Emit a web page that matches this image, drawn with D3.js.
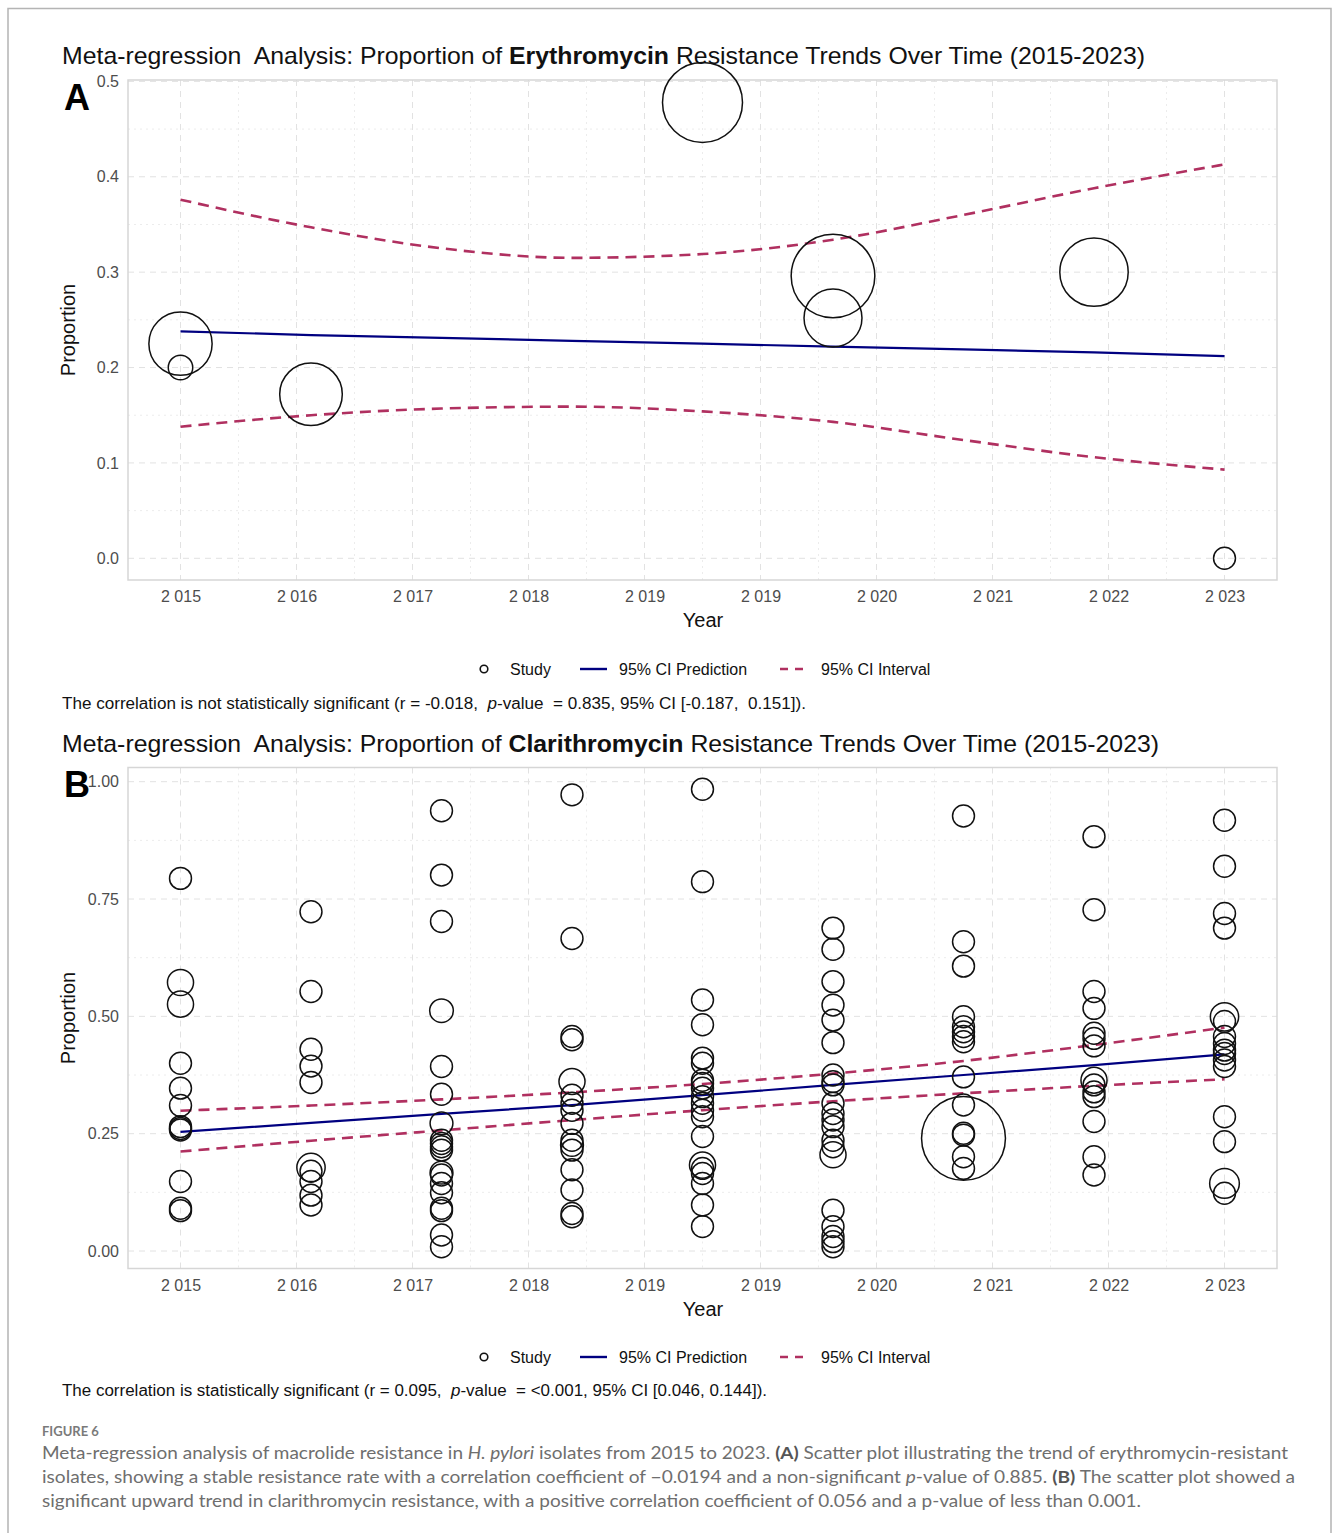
<!DOCTYPE html>
<html>
<head>
<meta charset="utf-8">
<script src="https://cdn.jsdelivr.net/npm/d3@7"></script>
<style>
  body { margin: 0; background: #fff; }
  svg { display: block; }
  text { white-space: pre; }
</style>
</head>
<body>
<svg id="fig" width="1333" height="1533"></svg>
<script>
// ---- data ----
const xTickLabels = ["2 015", "2 016", "2 017", "2 018", "2 019", "2 019", "2 020", "2 021", "2 022", "2 023"];
const yTicksA = [0, 0.1, 0.2, 0.3, 0.4, 0.5];
const yTicksB = [0, 0.25, 0.5, 0.75, 1.0];
const fitYears = [2015, 2016, 2017, 2018, 2019, 2020, 2021, 2022, 2023];

// panel A - erythromycin
const eryYear = [2015, 2015, 2016, 2019, 2020, 2020, 2022, 2023];
const eryProp = [0.225, 0.200, 0.172, 0.478, 0.296, 0.252, 0.300, 0.000];
const eryWeight = [10.0, 1.5, 9.8, 16.0, 17.5, 8.4, 11.7, 1.2];
const eryFit = [0.238, 0.234, 0.231, 0.228, 0.225, 0.222, 0.219, 0.216, 0.212];
const eryUpper = [0.376, 0.347, 0.325, 0.315, 0.319, 0.334, 0.360, 0.388, 0.413];
const eryLower = [0.138, 0.150, 0.157, 0.159, 0.154, 0.143, 0.124, 0.106, 0.093];

// panel B - clarithromycin (one list per year)
const clariYear = [2015, 2016, 2017, 2018, 2019, 2020, 2021, 2022, 2023];
const clariProp = [
  [0.794, 0.572, 0.526, 0.400, 0.347, 0.310, 0.265, 0.261, 0.258, 0.148, 0.091, 0.086],
  [0.723, 0.553, 0.430, 0.394, 0.359, 0.178, 0.170, 0.148, 0.119, 0.098],
  [0.938, 0.801, 0.702, 0.512, 0.393, 0.334, 0.272, 0.236, 0.229, 0.222, 0.215, 0.167, 0.162, 0.144, 0.124, 0.091, 0.086, 0.034, 0.009],
  [0.972, 0.666, 0.457, 0.450, 0.361, 0.332, 0.315, 0.300, 0.272, 0.236, 0.226, 0.215, 0.173, 0.130, 0.080, 0.073],
  [0.984, 0.787, 0.535, 0.482, 0.411, 0.400, 0.364, 0.357, 0.347, 0.329, 0.315, 0.300, 0.286, 0.244, 0.183, 0.176, 0.165, 0.144, 0.098, 0.052],
  [0.688, 0.643, 0.574, 0.524, 0.492, 0.444, 0.375, 0.361, 0.354, 0.315, 0.293, 0.279, 0.265, 0.236, 0.222, 0.205, 0.087, 0.052, 0.031, 0.020, 0.009],
  [0.927, 0.659, 0.607, 0.499, 0.478, 0.467, 0.457, 0.446, 0.371, 0.311, 0.251, 0.247, 0.240, 0.201, 0.176],
  [0.883, 0.727, 0.553, 0.517, 0.464, 0.453, 0.437, 0.364, 0.354, 0.339, 0.329, 0.276, 0.201, 0.162],
  [0.918, 0.820, 0.719, 0.688, 0.499, 0.489, 0.457, 0.442, 0.428, 0.421, 0.407, 0.393, 0.286, 0.233, 0.144, 0.123]
];
const clariWeight = [
  [1.2, 1.7, 1.7, 1.2, 1.2, 1.2, 1.2, 1.2, 1.2, 1.2, 1.2, 1.2],
  [1.2, 1.2, 1.2, 1.2, 1.2, 2.0, 1.2, 1.2, 1.2, 1.2],
  [1.2, 1.2, 1.2, 1.4, 1.2, 1.2, 1.3, 1.2, 1.2, 1.2, 1.2, 1.3, 1.2, 1.2, 1.2, 1.2, 1.2, 1.2, 1.2],
  [1.2, 1.2, 1.2, 1.2, 1.7, 1.2, 1.2, 1.2, 1.2, 1.2, 1.3, 1.2, 1.2, 1.2, 1.2, 1.2],
  [1.2, 1.2, 1.2, 1.2, 1.2, 1.2, 1.2, 1.2, 1.2, 1.2, 1.2, 1.2, 1.2, 1.2, 1.7, 1.2, 1.2, 1.2, 1.2, 1.2],
  [1.2, 1.2, 1.2, 1.2, 1.2, 1.2, 1.2, 1.2, 1.2, 1.2, 1.2, 1.2, 1.2, 1.2, 1.2, 1.7, 1.2, 1.2, 1.2, 1.2, 1.2],
  [1.2, 1.2, 1.2, 1.2, 1.2, 1.2, 1.2, 1.2, 1.2, 1.2, 1.2, 1.2, 17.6, 1.2, 1.2],
  [1.2, 1.2, 1.2, 1.2, 1.2, 1.2, 1.2, 1.7, 1.2, 1.2, 1.2, 1.2, 1.2, 1.2],
  [1.2, 1.2, 1.2, 1.2, 2.0, 1.2, 1.2, 1.2, 1.2, 1.2, 1.2, 1.2, 1.2, 1.2, 2.2, 1.2]
];
const clariFit = [0.254, 0.273, 0.292, 0.311, 0.332, 0.354, 0.375, 0.396, 0.419];
const clariUpper = [0.299, 0.310, 0.323, 0.338, 0.356, 0.378, 0.405, 0.439, 0.476];
const clariLower = [0.212, 0.235, 0.257, 0.279, 0.300, 0.319, 0.336, 0.352, 0.366];

// ---- layout ----
const svg = d3.select("#fig");
const font = "'Liberation Sans', Arial, Helvetica, sans-serif";
const NAVY = "#000080", MAROON = "#b03060";
const rScale = d3.scaleSqrt().domain([0, 1]).range([0, 10]);

svg.append("path")
  .attr("d", "M8,1540V8.5H1331V1540")
  .attr("fill", "none").attr("stroke", "#b4b4b4").attr("stroke-width", 1.5);

function titleText(y, drug, width) {
  const t = svg.append("text")
    .attr("x", 62).attr("y", y)
    .attr("font-family", font).attr("font-size", 24).attr("fill", "#111")
    .attr("textLength", width).attr("lengthAdjust", "spacingAndGlyphs");
  t.append("tspan").text("Meta-regression  Analysis: Proportion of ");
  t.append("tspan").attr("font-weight", "bold").text(drug);
  t.append("tspan").text(" Resistance Trends Over Time (2015-2023)");
}

function drawPanel(cfg) {
  const x = d3.scaleLinear().domain([2015, 2023]).range([180.5, 1224.5]);
  const y = d3.scaleLinear().domain(cfg.yDomain).range(cfg.yRange);
  const g = svg.append("g");

  const breaks = xTickLabels.map((d, i) => 2015 + i * 8 / (xTickLabels.length - 1));
  const xMinor = breaks.slice(1).map((b, i) => (b + breaks[i]) / 2);
  const yMinor = cfg.yTicks.slice(1).map((b, i) => (b + cfg.yTicks[i]) / 2);

  // grid
  g.selectAll(".gxm").data(xMinor).enter().append("line")
    .attr("x1", d => x(d)).attr("x2", d => x(d)).attr("y1", cfg.top).attr("y2", cfg.bottom)
    .attr("stroke", "#ececec").attr("stroke-dasharray", "2,4");
  g.selectAll(".gym").data(yMinor).enter().append("line")
    .attr("y1", d => y(d)).attr("y2", d => y(d)).attr("x1", cfg.left).attr("x2", cfg.right)
    .attr("stroke", "#ececec").attr("stroke-dasharray", "2,4");
  g.selectAll(".gx").data(breaks).enter().append("line")
    .attr("x1", d => x(d)).attr("x2", d => x(d)).attr("y1", cfg.top).attr("y2", cfg.bottom)
    .attr("stroke", "#e2e2e2").attr("stroke-dasharray", "6,5");
  g.selectAll(".gy").data(cfg.yTicks).enter().append("line")
    .attr("y1", d => y(d)).attr("y2", d => y(d)).attr("x1", cfg.left).attr("x2", cfg.right)
    .attr("stroke", "#e2e2e2").attr("stroke-dasharray", "6,5");

  g.append("rect")
    .attr("x", cfg.left).attr("y", cfg.top)
    .attr("width", cfg.right - cfg.left).attr("height", cfg.bottom - cfg.top)
    .attr("fill", "none").attr("stroke", "#d6d6d6").attr("stroke-width", 1.5);

  // axes
  const xAxis = g.append("g")
    .attr("transform", "translate(0," + cfg.bottom + ")")
    .call(d3.axisBottom(x).tickValues(breaks).tickFormat((d, i) => xTickLabels[i]).tickSize(0).tickPadding(11));
  const yAxis = g.append("g")
    .attr("transform", "translate(" + cfg.left + ",0)")
    .call(d3.axisLeft(y).tickValues(cfg.yTicks).tickFormat(d3.format(cfg.yFormat)).tickSize(0).tickPadding(9));
  [xAxis, yAxis].forEach(a => {
    a.select(".domain").remove();
    a.selectAll("text").attr("font-family", font).attr("font-size", 16).attr("fill", "#4d4d4d");
  });

  g.append("text")
    .attr("x", 703).attr("y", cfg.bottom + 47).attr("text-anchor", "middle")
    .attr("font-family", font).attr("font-size", 20).attr("fill", "#111").text("Year");
  g.append("text")
    .attr("transform", "translate(75," + ((cfg.top + cfg.bottom) / 2) + ") rotate(-90)")
    .attr("text-anchor", "middle")
    .attr("font-family", font).attr("font-size", 20).attr("fill", "#111").text("Proportion");

  // lines
  const band = d3.line().x((d, i) => x(fitYears[i])).y(d => y(d)).curve(d3.curveMonotoneX);
  [cfg.upper, cfg.lower].forEach(arr => {
    g.append("path").attr("d", band(arr))
      .attr("fill", "none").attr("stroke", MAROON).attr("stroke-width", 2.6)
      .attr("stroke-dasharray", "11,7");
  });
  g.append("path").attr("d", d3.line().x((d, i) => x(fitYears[i])).y(d => y(d))(cfg.fit))
    .attr("fill", "none").attr("stroke", NAVY).attr("stroke-width", 2.2);

  // studies
  g.selectAll(".study").data(cfg.points).enter().append("circle")
    .attr("cx", d => x(d.year)).attr("cy", d => y(d.prop)).attr("r", d => rScale(d.w))
    .attr("fill", "none").attr("stroke", "#111").attr("stroke-width", 1.5);

  // panel letter
  svg.append("text")
    .attr("x", 64).attr("y", cfg.letterY)
    .attr("font-family", font).attr("font-weight", "bold").attr("font-size", 36).attr("fill", "#000")
    .text(cfg.letter);

  // legend
  const ly = cfg.legendY;
  const lg = svg.append("g").attr("font-family", font).attr("font-size", 16).attr("fill", "#111");
  lg.append("circle").attr("cx", 484).attr("cy", ly).attr("r", 3.8)
    .attr("fill", "none").attr("stroke", "#111").attr("stroke-width", 1.6);
  lg.append("text").attr("x", 510).attr("y", ly + 6).text("Study");
  lg.append("line").attr("x1", 580).attr("x2", 607).attr("y1", ly).attr("y2", ly)
    .attr("stroke", NAVY).attr("stroke-width", 2.4);
  lg.append("text").attr("x", 619).attr("y", ly + 6).text("95% CI Prediction");
  lg.append("line").attr("x1", 780).attr("x2", 808).attr("y1", ly).attr("y2", ly)
    .attr("stroke", MAROON).attr("stroke-width", 2.4).attr("stroke-dasharray", "8,7");
  lg.append("text").attr("x", 821).attr("y", ly + 6).text("95% CI Interval");

  // correlation note
  const note = svg.append("text")
    .attr("x", 62).attr("y", cfg.noteY)
    .attr("font-family", font).attr("font-size", 16).attr("fill", "#111")
    .attr("textLength", cfg.noteWidth).attr("lengthAdjust", "spacingAndGlyphs");
  note.append("tspan").text(cfg.note[0]);
  note.append("tspan").attr("font-style", "italic").text("p");
  note.append("tspan").text(cfg.note[1]);
}

titleText(64, "Erythromycin", 1083);
drawPanel({
  left: 128, right: 1277, top: 80, bottom: 580,
  yDomain: [0, 0.5], yRange: [558.3, 81.4], yTicks: yTicksA, yFormat: ".1f",
  points: eryYear.map((yr, i) => ({ year: yr, prop: eryProp[i], w: eryWeight[i] })),
  fit: eryFit, upper: eryUpper, lower: eryLower,
  letter: "A", letterY: 110, legendY: 669, noteY: 709, noteWidth: 744,
  note: ["The correlation is not statistically significant (r = -0.018,  ", "-value  = 0.835, 95% CI [-0.187,  0.151])."]
});

titleText(752, "Clarithromycin", 1097);
const clariPoints = [];
clariYear.forEach((yr, i) => clariProp[i].forEach((p, j) => clariPoints.push({ year: yr, prop: p, w: clariWeight[i][j] })));
drawPanel({
  left: 128, right: 1277, top: 767.5, bottom: 1268.5,
  yDomain: [0, 1], yRange: [1251, 781.7], yTicks: yTicksB, yFormat: ".2f",
  points: clariPoints,
  fit: clariFit, upper: clariUpper, lower: clariLower,
  letter: "B", letterY: 797, legendY: 1357, noteY: 1396, noteWidth: 705,
  note: ["The correlation is statistically significant (r = 0.095,  ", "-value  = <0.001, 95% CI [0.046, 0.144])."]
});

// ---- figure caption ----
const capFont = "Lato, 'Open Sans', sans-serif";
svg.append("text").attr("x", 42).attr("y", 1436)
  .attr("font-family", capFont).attr("font-size", 13).attr("font-weight", "bold").attr("fill", "#7a7a7a")
  .text("FIGURE 6");

const capLines = [
  { w: 1246, parts: [["Meta-regression analysis of macrolide resistance in ", ""], ["H. pylori", "i"], [" isolates from 2015 to 2023. ", ""], ["(A)", "b"], [" Scatter plot illustrating the trend of erythromycin-resistant", ""]] },
  { w: 1253, parts: [["isolates, showing a stable resistance rate with a correlation coefficient of \u22120.0194 and a non-significant ", ""], ["p", "i"], ["-value of 0.885. ", ""], ["(B)", "b"], [" The scatter plot showed a", ""]] },
  { w: 1099, parts: [["significant upward trend in clarithromycin resistance, with a positive correlation coefficient of 0.056 and a p-value of less than 0.001.", ""]] }
];
capLines.forEach((ln, k) => {
  const t = svg.append("text").attr("x", 42).attr("y", 1459 + k * 24)
    .attr("font-family", capFont).attr("font-size", 17).attr("fill", "#6e6e6e")
    .attr("textLength", ln.w).attr("lengthAdjust", "spacingAndGlyphs");
  ln.parts.forEach(p => {
    const s = t.append("tspan").text(p[0]);
    if (p[1] === "i") s.attr("font-style", "italic");
    if (p[1] === "b") s.attr("font-weight", "bold").attr("fill", "#555");
  });
});
</script>
</body>
</html>
